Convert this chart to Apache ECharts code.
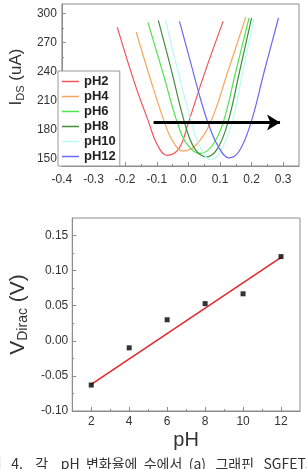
<!DOCTYPE html>
<html>
<head>
<meta charset="utf-8">
<script src="https://cdn.jsdelivr.net/npm/echarts@6/dist/echarts.min.js"></script>
<style>
  html, body { margin: 0; padding: 0; background: #fff; }
  #chart { width: 307px; height: 469px; }
</style>
</head>
<body>
<div id="chart"></div>
<script>
document.addEventListener('DOMContentLoaded', function () {
    // top panel: I_DS vs Vg for each pH
    const curveNames = ['pH2', 'pH4', 'pH6', 'pH8', 'pH10', 'pH12'];
    const vgPH2 = [-0.225, -0.17, -0.125, -0.1, -0.068, -0.03, 0.0, 0.05, 0.11];
    const idsPH2 = [286, 228, 187, 165, 153, 160, 187, 237, 292];
    const vgPH4 = [-0.165, -0.12, -0.075, -0.05, -0.017, 0.025, 0.07, 0.125, 0.182];
    const idsPH4 = [281, 232, 187, 168, 157.5, 164, 187, 240, 296.6];
    const vgPH6 = [-0.128, -0.08, -0.035, -0.005, 0.037, 0.075, 0.11, 0.15, 0.192];
    const idsPH6 = [291, 238, 187, 165, 155, 163, 187, 240, 295.5];
    const vgPH8 = [-0.095, -0.055, -0.012, 0.02, 0.058, 0.092, 0.125, 0.162, 0.2];
    const idsPH8 = [293, 243, 187, 160, 151.5, 160, 187, 240, 295.5];
    const vgPH10 = [-0.072, -0.035, 0.01, 0.035, 0.07, 0.1, 0.138, 0.172, 0.207];
    const idsPH10 = [293, 243, 187, 163, 148.5, 156, 187, 240, 294.5];
    const vgPH12 = [-0.028, 0.005, 0.038, 0.062, 0.095, 0.128, 0.16, 0.198, 0.24, 0.285];
    const idsPH12 = [292, 252, 212, 187, 162, 150.5, 157, 187, 240, 295.5];
    const arrowVg = [-0.11, 0.29];
    const arrowIds = [187, 187];

    const topXLabels = [-0.4, -0.3, -0.2, -0.1, 0.0, 0.1, 0.2, 0.3];
    const topXMinor = [-0.35, -0.25, -0.15, -0.05, 0.05, 0.15, 0.25];
    const topYLabels = [150, 180, 210, 240, 270, 300];
    const topYMinor = [165, 195, 225, 255, 285];

    // bottom panel: Dirac voltage vs pH
    const phValues = [2, 4, 6, 8, 10, 12];
    const vDirac = [-0.063, -0.010, 0.030, 0.053, 0.067, 0.120];
    const fitPH = [2, 12];
    const fitV = [-0.062, 0.119];
    const botXLabels = [2, 4, 6, 8, 10, 12];
    const botXMinor = [3, 5, 7, 9, 11];
    const botYLabels = [-0.10, -0.05, 0.00, 0.05, 0.10, 0.15];
    const botYMinor = [-0.075, -0.025, 0.025, 0.075, 0.125];

    const caption = '그림   4.    각    pH  변화율에  수에서  (a)   그래핀   SGFET의';

    const curveColors = ['#f0545a', '#f7a55e', '#4ee44e', '#3f8f3f', '#b9fbf4', '#6a6af2'];
    const curveData = [
        [vgPH2, idsPH2], [vgPH4, idsPH4], [vgPH6, idsPH6],
        [vgPH8, idsPH8], [vgPH10, idsPH10], [vgPH12, idsPH12]
    ];
    const zip = (xs, ys) => xs.map((x, i) => [x, ys[i]]);

    const font = 'Liberation Sans, Arial, sans-serif';
    const gray = '#8c8c8c';
    const labelStyle = { color: '#333', fontSize: 12, fontFamily: font };

    function majorAxis(extra) {
        return Object.assign({
            type: 'value',
            axisLine: { show: true, onZero: false, lineStyle: { color: gray } },
            splitLine: { show: false }
        }, extra);
    }
    function minorAxis(extra, ticks) {
        return Object.assign({
            type: 'value',
            axisLine: { show: false, onZero: false },
            axisLabel: { show: false },
            axisTick: { show: true, inside: true, length: 2, customValues: ticks, lineStyle: { color: gray } },
            splitLine: { show: false }
        }, extra);
    }
    function ticks(values) {
        return { show: true, inside: true, length: 4, customValues: values, lineStyle: { color: gray } };
    }

    const chart = echarts.init(document.getElementById('chart'));

    const series = curveNames.map((name, i) => ({
        name: name,
        type: 'line',
        xAxisIndex: 0,
        yAxisIndex: 0,
        data: zip(curveData[i][0], curveData[i][1]),
        smooth: 0.4,
        symbol: 'none',
        lineStyle: { color: curveColors[i], width: 1.2 },
        itemStyle: { color: curveColors[i] },
        z: 2
    }));
    series.push({
        name: 'arrow',
        type: 'line',
        xAxisIndex: 0,
        yAxisIndex: 0,
        data: [],
        symbol: 'none',
        markLine: {
            silent: true,
            symbol: ['none', 'arrow'],
            symbolSize: [12, 13],
            label: { show: false },
            lineStyle: { color: '#000', width: 3, type: 'solid' },
            data: [[{ coord: [arrowVg[0], arrowIds[0]] }, { coord: [arrowVg[1], arrowIds[1]] }]]
        },
        z: 5
    });
    series.push({
        name: 'fit',
        type: 'line',
        xAxisIndex: 2,
        yAxisIndex: 2,
        data: zip(fitPH, fitV),
        symbol: 'none',
        lineStyle: { color: '#e3262a', width: 1.5 }
    });
    series.push({
        name: 'Dirac',
        type: 'scatter',
        xAxisIndex: 2,
        yAxisIndex: 2,
        data: zip(phValues, vDirac),
        symbol: 'rect',
        symbolSize: 5,
        itemStyle: { color: '#000' },
        z: 4
    });

    const option = {
        animation: false,
        grid: [
            { left: 50, top: 4, width: 249, height: 162, show: true, borderColor: gray, borderWidth: 1, backgroundColor: '#fff' },
            { left: 49, top: 218, width: 251, height: 193, show: true, borderColor: gray, borderWidth: 1, backgroundColor: '#fff' }
        ],
        legend: {
            data: curveNames,
            orient: 'vertical',
            left: 58,
            top: 71,
            width: 60,
            padding: [3, 4, 2, 4],
            icon: 'rect',
            itemWidth: 17,
            itemHeight: 1.5,
            itemGap: 0,
            borderColor: '#999',
            borderWidth: 1,
            backgroundColor: '#fff',
            selectedMode: false,
            textStyle: { color: '#222', fontSize: 13, fontWeight: 'bold', fontFamily: font, lineHeight: 15 }
        },
        xAxis: [
            majorAxis({
                gridIndex: 0, min: -0.4, max: 0.35, position: 'bottom',
                axisTick: ticks(topXLabels),
                axisLabel: Object.assign({ margin: 8, customValues: topXLabels, formatter: v => v.toFixed(1) }, labelStyle)
            }),
            minorAxis({ gridIndex: 0, min: -0.4, max: 0.35, position: 'bottom' }, topXMinor),
            majorAxis({
                gridIndex: 1, min: 1, max: 13, position: 'bottom',
                name: 'pH', nameLocation: 'middle', nameGap: 19,
                nameTextStyle: { color: '#333', fontSize: 20, fontFamily: font },
                axisTick: ticks(botXLabels),
                axisLabel: Object.assign({ margin: 5, customValues: botXLabels }, labelStyle)
            }),
            minorAxis({ gridIndex: 1, min: 1, max: 13, position: 'bottom' }, botXMinor)
        ],
        yAxis: [
            majorAxis({
                gridIndex: 0, min: 142, max: 310, position: 'left',
                name: '{m|I}{s|DS}{m| (uA)}', nameLocation: 'middle', nameGap: 26,
                nameTextStyle: {
                    padding: [0, 0, 0, 16],
                    rich: {
                        m: { fontSize: 17, color: '#333', fontFamily: font },
                        s: { fontSize: 11, color: '#333', fontFamily: font, verticalAlign: 'bottom', padding: [8, 0, 0, 0] }
                    }
                },
                axisTick: ticks(topYLabels),
                axisLabel: Object.assign({ margin: 5, customValues: topYLabels }, labelStyle)
            }),
            minorAxis({ gridIndex: 0, min: 142, max: 310, position: 'left' }, topYMinor),
            majorAxis({
                gridIndex: 1, min: -0.10, max: 0.175, position: 'left',
                name: '{m|V}{s|Dirac}{m| (V)}', nameLocation: 'middle', nameGap: 30,
                nameTextStyle: {
                    rich: {
                        m: { fontSize: 21, color: '#333', fontFamily: font },
                        s: { fontSize: 14, color: '#333', fontFamily: font, verticalAlign: 'bottom', padding: [9, 0, 0, 0] }
                    }
                },
                axisTick: ticks(botYLabels),
                axisLabel: Object.assign({ margin: 4, customValues: botYLabels, formatter: v => v.toFixed(2) }, labelStyle)
            }),
            minorAxis({ gridIndex: 1, min: -0.10, max: 0.175, position: 'left' }, botYMinor)
        ],
        graphic: [{
            type: 'text',
            x: -24,
            y: 457,
            style: {
                text: caption,
                fill: '#333',
                fontSize: 14,
                fontFamily: 'Noto Sans CJK KR',
                verticalAlign: 'top'
            }
        }],
        series: series
    };
    chart.setOption(option);
});
</script>
</body>
</html>
